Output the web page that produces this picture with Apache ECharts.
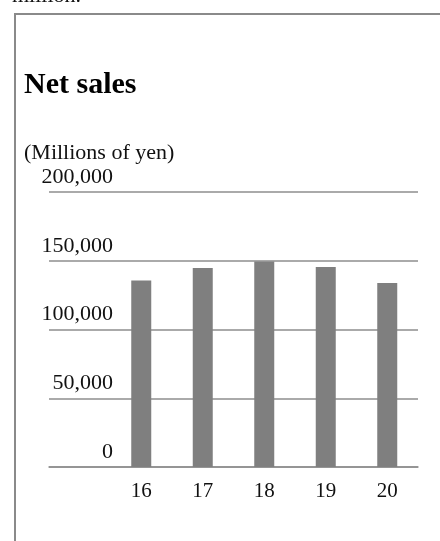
<!DOCTYPE html>
<html>
<head>
<meta charset="utf-8">
<style>
  html, body { margin: 0; padding: 0; background: #fff; }
  #chart { width: 440px; height: 541px; }
</style>
<script src="https://cdn.jsdelivr.net/npm/echarts@6/dist/echarts.min.js"></script>
</head>
<body>
<div id="chart"></div>
<script>
// Fiscal years (last two digits) and net sales in millions of yen
const years = ['16', '17', '18', '19', '20'];
const netSales = [135700, 144700, 149500, 145400, 133800];

// Value axis range
const yMin = 0;
const yMax = 200000;
const yStep = 50000;

const serif = '"Liberation Serif", "Times New Roman", serif';
const lineGray = '#8e8e8e';

// A blank leading slot keeps the gridlines running past the first year
const axisCategories = [''].concat(years);
const barValues = [null].concat(netSales);

const chart = echarts.init(document.getElementById('chart'), null, { renderer: 'canvas' });

chart.setOption({
  animation: false,
  backgroundColor: '#ffffff',
  grid: { left: 49, right: 22, top: 192, bottom: 74, containLabel: false },
  xAxis: {
    type: 'category',
    data: axisCategories,
    axisTick: { show: false },
    axisLine: { show: true, lineStyle: { color: lineGray, width: 1.5 } },
    axisLabel: { color: '#111', fontFamily: serif, fontSize: 21, margin: 14 }
  },
  yAxis: {
    type: 'value',
    min: yMin,
    max: yMax,
    interval: yStep,
    axisLine: { show: false },
    axisTick: { show: false },
    splitLine: { show: true, lineStyle: { color: lineGray, width: 1.5 } },
    axisLabel: {
      color: '#111',
      fontFamily: serif,
      fontSize: 22,
      align: 'right',
      verticalAlign: 'bottom',
      margin: -64,
      padding: [0, 0, 4, 0],
      formatter: v => v.toLocaleString('en-US')
    }
  },
  series: [{
    type: 'bar',
    data: barValues,
    barWidth: 20,
    itemStyle: { color: '#7f7f7f' },
    z: 3
  }],
  graphic: [
    {
      type: 'polyline',
      shape: { points: [[15, 541], [15, 14], [441, 14]] },
      style: { stroke: '#8a8a8a', lineWidth: 2, fill: null }
    },
    {
      type: 'text',
      x: 12, y: 7,
      style: { text: 'million.', font: '22px ' + serif, fill: '#111', verticalAlign: 'bottom' }
    },
    {
      type: 'text',
      x: 24, y: 85,
      style: { text: 'Net sales', font: 'bold 30px ' + serif, fill: '#000', verticalAlign: 'middle' }
    },
    {
      type: 'text',
      x: 24, y: 153,
      style: { text: '(Millions of yen)', font: '22px ' + serif, fill: '#111', verticalAlign: 'middle' }
    }
  ]
});
</script>
</body>
</html>
